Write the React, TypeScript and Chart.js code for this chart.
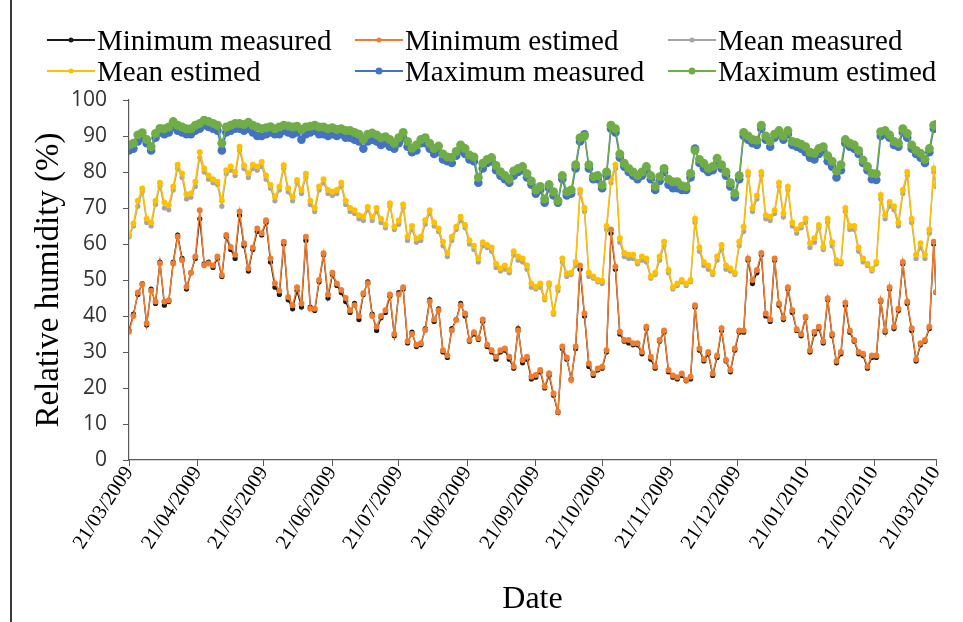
import React, { useEffect, useRef } from 'react';
import { Chart, registerables } from 'chart.js';

Chart.register(...registerables);

// x positions: day offsets from 21/03/2009 (every second day, plus the last day)
const dayOffsets = [...Array.from({ length: 183 }, (_, i) => i * 2), 365];

const tickDays = [0, 31, 61, 92, 122, 153, 184, 214, 245, 275, 306, 337, 365];
const tickLabels = [
  '21/03/2009', '21/04/2009', '21/05/2009', '21/06/2009', '21/07/2009', '21/08/2009',
  '21/09/2009', '21/10/2009', '21/11/2009', '21/12/2009', '21/01/2010', '21/02/2010', '21/03/2010',
];

const minMeasured = [
  36, 40.5, 46, 49, 37.5, 47.5, 43.5, 55, 43, 44,
  55, 62.5, 56, 47.5, 52, 56, 67, 54.5, 55, 53.5,
  56, 51, 62, 58.5, 56, 68, 59.5, 52.5, 58.5, 63.5,
  62.5, 66, 55, 48, 46, 60, 44.5, 42, 47, 42.5,
  61, 42.5, 41.5, 49.5, 57, 45, 51.5, 48.5, 46.5, 44,
  41, 43.5, 39, 46, 49.5, 40.5, 36, 39.5, 41, 45.5,
  34.5, 46.5, 47.5, 32.5, 35.5, 31.5, 32, 36.5, 44.5, 38.5,
  42, 30, 28.5, 36.5, 39, 43.5, 40, 33, 35, 33.5,
  38.5, 31.5, 30, 28, 30, 30.5, 28, 25.5, 36.5, 27,
  28, 22.5, 23, 24.5, 20, 23.5, 18, 13.2, 31, 28,
  22.5, 31, 53, 40, 26, 23.5, 25, 25.5, 30, 63,
  53, 35, 33, 32.5, 32, 32, 29.5, 36.5, 28, 25.5,
  33, 35.5, 24.5, 23, 22.5, 23.5, 22, 22.5, 42.5, 30.5,
  27.5, 29.5, 23.5, 28.5, 36, 27.5, 24.5, 30.5, 35.5, 35.5,
  55.5, 49, 52, 57, 40, 38.5, 55.5, 43, 39, 47.5,
  41, 36, 34.5, 39.5, 30, 35, 36.5, 32.5, 44.5, 34.5,
  27, 29.5, 43, 35.5, 33, 29.5, 29, 25.5, 28.5, 28.5,
  44, 35.5, 47.5, 36.5, 41.5, 54.5, 43.5, 36, 27.5, 32,
  33, 36.5, 60, 46.5,
];

const minEstimated = [
  35.6, 40, 46.5, 48.8, 38, 47, 44, 54.6, 44, 44.4,
  54.6, 62, 55.5, 48.1, 52, 56.5, 69.4, 54.1, 54.6, 54,
  56.5, 51.4, 62.5, 59.2, 57, 69, 60.2, 53.2, 59, 64.3,
  63, 66.6, 56, 49.1, 47, 60.6, 45.3, 43, 48, 43.5,
  62, 42, 42, 50, 57.4, 46, 52, 49, 47.2, 45,
  41.6, 43, 40, 46.3, 49.1, 40, 37, 40, 41.6, 46,
  35, 46, 48, 33, 35, 32, 32.4, 36.1, 44, 39,
  41.6, 30.5, 29, 36, 38.9, 43, 40.7, 33.3, 35.5, 33.8,
  39, 32, 30.5, 28.7, 30.5, 31, 28.7, 26, 36, 27.8,
  28.7, 23.1, 23.6, 25, 20.4, 24.1, 18.5, 13.4, 31.5, 28.5,
  22.2, 31.5, 54, 40.7, 26.8, 24, 25.4, 25.9, 30.5, 64,
  53.7, 35.6, 33.3, 33.3, 32.4, 32.4, 30.1, 37, 28.7, 26,
  33.3, 36, 25, 23.5, 23, 24, 22.2, 23.1, 43, 31,
  28, 30, 24, 29, 36.6, 27.8, 25, 31, 36, 36,
  56, 50, 52.8, 57.5, 40.7, 39, 56, 43.5, 39.5, 48,
  41.6, 36.3, 35, 39.8, 30.5, 35.6, 37, 33, 44.9, 35,
  27.5, 30, 43.7, 36, 33.3, 30, 29.5, 26, 29, 29,
  44.4, 36, 48, 37, 42, 55, 44, 36.6, 28, 32.4,
  33.3, 37, 60.6, 46.7,
];

const meanMeasured = [
  62, 65, 70.5, 74.5, 66, 65, 71, 76, 70, 69.5,
  75, 81, 78.5, 72.5, 73, 76, 84, 80, 78, 77,
  76.5, 70.5, 79.5, 80.5, 79, 86, 81, 78.5, 81, 80.5,
  81.5, 78, 75.5, 72, 75, 81, 74.5, 72, 77, 74,
  78.5, 71, 69, 75, 77, 74, 73.5, 74, 76, 71,
  69, 68.5, 67, 66.5, 69.5, 66.5, 69, 66, 64.5, 70.5,
  64, 65.5, 70, 61, 64, 60.5, 61, 65.5, 68.5, 65,
  63.5, 59.5, 56.5, 61, 64, 66.5, 64.5, 60, 58.5, 55,
  59.5, 59, 58, 53.5, 52.5, 53, 52, 57, 55.5, 55,
  53, 48, 47.5, 48, 44.5, 48.5, 40.5, 47, 55, 51,
  51.5, 54, 74, 69, 51, 50.5, 49.5, 49, 64, 77,
  81, 60.5, 56.5, 56, 56, 54.5, 55.5, 55, 50.5, 51.5,
  55.5, 59.5, 52, 47.5, 48.5, 49.5, 48.5, 49.5, 66, 58,
  54, 53, 51.5, 55.5, 58.5, 53, 52.5, 51.5, 59.5, 63.5,
  79, 69, 72.5, 79, 67, 66.5, 68.5, 76, 67.5, 75,
  65, 63, 64.5, 66, 59, 60.5, 64.5, 58.5, 66, 59.5,
  54.5, 54.5, 69, 64, 64, 58, 55, 54, 52.5, 54.5,
  72.5, 67, 70.5, 69.5, 65, 74, 79, 66, 56, 59,
  56, 63, 80, 76,
];

const meanEstimated = [
  62.5, 65.7, 72, 75.4, 67, 66, 72, 77, 71.5, 70.8,
  76, 82, 79.6, 73.8, 74, 77.3, 85.5, 81, 79, 78,
  77.3, 72, 80.5, 81.5, 80, 87, 81.9, 79.6, 82, 81.5,
  82.8, 79, 76.4, 73.1, 75.9, 81.9, 75.5, 73.1, 77.8, 75,
  79.5, 72, 70, 76, 78, 75, 74.5, 75, 77, 72,
  70, 69.4, 68, 67.6, 70.3, 67.5, 70, 67, 65.3, 71.3,
  64.8, 66.5, 71, 62, 65, 61.5, 62, 66.6, 69.4, 66,
  64.3, 60.6, 57.5, 62, 64.8, 67.6, 65.3, 61, 59.5, 56,
  60.5, 59.7, 59, 54.5, 53.2, 54, 52.8, 58, 56.5, 56,
  54, 49, 48.1, 49, 45, 49.1, 41, 48, 56, 51.8,
  52, 55, 75, 70, 52, 51, 50, 49.8, 65, 78,
  82, 61.6, 57.5, 57, 57, 55.1, 56.5, 56, 51, 52,
  56.5, 60.6, 52.8, 48, 49, 50, 49, 50, 67, 59,
  55, 54, 52, 56.5, 59.7, 54, 53.2, 52, 60.6, 64.8,
  80, 70, 73.5, 80, 68, 67.6, 69.4, 77, 68.5, 75.9,
  66, 64, 65.3, 67.1, 60.2, 61.6, 65.3, 59.2, 67, 60.5,
  55.5, 55, 70, 65, 65, 59, 56, 54.5, 53, 55,
  73.6, 68, 71.7, 70.5, 66, 75, 80, 67, 57, 60.2,
  57, 64, 81, 76.4,
];

const maxMeasured = [
  86, 86.5, 88.5, 89.5, 88, 86, 89.5, 91, 90.5, 91,
  92.5, 91.5, 91, 90.5, 90.5, 91.5, 92, 93, 92.5, 92,
  91.5, 86, 91, 91.5, 92, 92, 91.5, 92, 91, 90,
  90, 90.5, 91, 90.5, 90.5, 91.5, 91, 90.5, 91, 89,
  90.5, 91, 91.5, 90.5, 90.5, 90, 90.5, 90, 90.5, 89.5,
  89.5, 89, 88.5, 86.5, 88.5, 89, 88.5, 87.5, 88, 87,
  86.5, 88, 89.5, 87, 85.5, 86, 88, 88, 86.5, 85,
  85.5, 83.5, 83, 82.5, 84.5, 86, 85, 83.5, 83, 77,
  81, 82.5, 83, 80.5, 79, 78, 77, 79, 80, 80.5,
  78.5, 76.5, 74, 75, 71.5, 75.5, 73.5, 71.5, 78, 73.5,
  74, 81, 88.5, 90.5, 81, 78, 78, 75.5, 79, 92,
  91, 84, 81.5, 80, 79, 78, 79, 80.5, 78, 75,
  77.5, 80, 76.5, 75.5, 75.5, 75, 75, 78.5, 86.5, 82.5,
  81, 80, 80.5, 82.5, 81, 79, 76, 73, 78, 90,
  89, 88, 87.5, 92, 89, 87, 89.5, 90.5, 89, 90.5,
  87.5, 87, 86.5, 85.5, 84, 83.5, 85, 86, 83, 81.5,
  78.5, 80.5, 88, 87, 86.5, 85, 82.5, 80.5, 78, 77.8,
  90, 90.5, 89.5, 87.5, 87, 91, 89.5, 86.5, 85, 84,
  82.5, 85.5, 92, 92.5,
];

const maxEstimated = [
  87.5, 88, 90.3, 90.9, 89, 87, 90.7, 92.1, 92, 92.5,
  94, 93, 92.5, 92, 92, 93, 93.5, 94.4, 94, 93.5,
  93, 88, 92.5, 93, 93.5, 93.5, 93.2, 93.8, 93, 92.5,
  92, 92.3, 92.6, 92, 92.5, 93, 92.8, 92.5, 92.7, 91.8,
  92.5, 92.7, 93, 92.5, 92.5, 92, 92.3, 91.8, 92, 91.5,
  91.5, 91, 90.5, 89, 90.5, 90.8, 90.3, 89.5, 89.8, 89,
  88, 89.5, 91, 88.5, 86.6, 87.5, 89, 89.5, 88, 86.5,
  87.2, 85, 84.2, 84, 85.7, 87.5, 86.5, 84.7, 84.2, 78.5,
  82.4, 83.5, 84, 81.8, 80.1, 79, 78, 80.3, 81, 81.5,
  79.5, 77.5, 75, 76, 72.5, 76.5, 74.5, 72, 79, 74.5,
  75, 82, 89.5, 90, 82, 78.7, 79, 76.4, 80, 93,
  92, 85, 82.4, 81, 80, 79, 80, 81.5, 79, 76,
  78.7, 81, 78, 77.3, 77.3, 76.2, 75.9, 79.6, 86, 83.5,
  82.4, 81, 81.5, 83.8, 82, 80, 77, 74, 79, 91,
  90, 89, 88.8, 93, 90, 88.5, 90.5, 91.5, 90, 91.5,
  88.5, 88.2, 87.7, 87, 85.5, 85.2, 86.5, 87, 84.5, 83,
  80.3, 82, 89, 88, 87.5, 86, 83.3, 81.5, 79.6, 79.5,
  91.2, 91.5, 90.3, 88.5, 88, 92, 90.7, 87.5, 86, 85.2,
  83.5, 86.5, 93, 93.2,
];

const seriesNames = [
  'Minimum measured', 'Minimum estimed', 'Mean measured',
  'Mean estimed', 'Maximum measured', 'Maximum estimed',
];
const seriesValues = [minMeasured, minEstimated, meanMeasured, meanEstimated, maxMeasured, maxEstimated];
const seriesColors = ['#1a1a1a', '#ED7D31', '#A5A5A5', '#FFC000', '#4472C4', '#70AD47'];
const pointRadii = [2.6, 3, 2.6, 3, 4.3, 4.5];
const lineWidths = [1.3, 1.5, 1.3, 1.5, 1.5, 1.5];

const legendSlots = [
  { left: 47, top: 40 }, { left: 355, top: 40 }, { left: 668, top: 40 },
  { left: 47, top: 71 }, { left: 355, top: 71 }, { left: 668, top: 71 },
];

export default function App() {
  const canvasRef = useRef<HTMLCanvasElement | null>(null);

  useEffect(() => {
    document.body.style.margin = '0';
    const canvas = canvasRef.current;
    if (!canvas) return;
    const datasets = seriesNames.map((name, s) => ({
      label: name,
      data: dayOffsets.map((d, i) => ({ x: d, y: seriesValues[s][i] })),
      borderColor: seriesColors[s],
      backgroundColor: seriesColors[s],
      pointBackgroundColor: seriesColors[s],
      pointBorderColor: seriesColors[s],
      pointBorderWidth: 0,
      pointRadius: pointRadii[s],
      borderWidth: lineWidths[s],
      tension: 0,
      fill: false,
      order: 6 - s,
    }));
    const chart = new Chart(canvas, {
      type: 'line',
      data: { datasets },
      options: {
        responsive: false,
        animation: false,
        devicePixelRatio: 1,
        layout: { padding: { top: 100, right: 27, left: 0, bottom: 0 } },
        plugins: { legend: { display: false }, tooltip: { enabled: false } },
        scales: {
          x: {
            type: 'linear',
            min: 0,
            max: 365,
            afterBuildTicks: (scale: any) => {
              scale.ticks = tickDays.map((v) => ({ value: v }));
            },
            afterFit: (scale: any) => {
              scale.height = 162;
            },
            grid: { display: true, drawOnChartArea: false, drawTicks: true, tickLength: 6, color: '#595959' },
            border: { display: true, color: '#595959', width: 1.2 },
            ticks: {
              autoSkip: false,
              minRotation: 57,
              maxRotation: 57,
              padding: -4,
              color: '#000',
              font: { family: 'Liberation Serif', size: 20.5 },
              callback: (value: any) => {
                const idx = tickDays.indexOf(Number(value));
                return idx >= 0 ? tickLabels[idx] : '';
              },
            },
            title: {
              display: true,
              text: 'Date',
              color: '#000',
              font: { family: 'Liberation Serif', size: 32 },
              padding: { top: 0, bottom: 3 },
            },
          },
          y: {
            min: 0,
            max: 100,
            afterFit: (scale: any) => {
              scale.width = 129;
            },
            grid: { display: true, drawOnChartArea: false, drawTicks: true, tickLength: 6, color: '#595959' },
            border: { display: true, color: '#595959', width: 1.2 },
            ticks: {
              stepSize: 10,
              padding: 16,
              color: '#333',
              font: { family: 'Open Sans', size: 21 },
            },
            title: {
              display: true,
              text: 'Relative humidity (%)',
              color: '#000',
              font: { family: 'Liberation Serif', size: 33 },
              padding: { top: 30, bottom: 0 },
            },
          },
        },
      },
    } as any);
    return () => chart.destroy();
  }, []);

  return (
    <div style={{ position: 'relative', width: 963, height: 622, background: '#fff', overflow: 'hidden' }}>
      <canvas ref={canvasRef} width={963} height={622} style={{ display: 'block', position: 'absolute', left: 0, top: 0 }} />
      <div style={{ position: 'absolute', left: 10, top: 0, width: 1.5, height: 622, background: '#3a3a3a' }} />
      {seriesNames.map((name, s) => (
        <div
          key={name}
          style={{
            position: 'absolute',
            left: legendSlots[s].left,
            top: legendSlots[s].top - 18,
            height: 36,
            display: 'flex',
            alignItems: 'center',
            whiteSpace: 'nowrap',
          }}
        >
          <svg width={50} height={12} style={{ display: 'block' }}>
            <line x1={0} y1={6} x2={48} y2={6} stroke={seriesColors[s]} strokeWidth={2} />
            <circle cx={24} cy={6} r={s >= 4 ? 3.5 : 2.5} fill={seriesColors[s]} />
          </svg>
          <span style={{ fontFamily: 'Liberation Serif', fontSize: 29, color: '#000', lineHeight: '36px' }}>{name}</span>
        </div>
      ))}
    </div>
  );
}
